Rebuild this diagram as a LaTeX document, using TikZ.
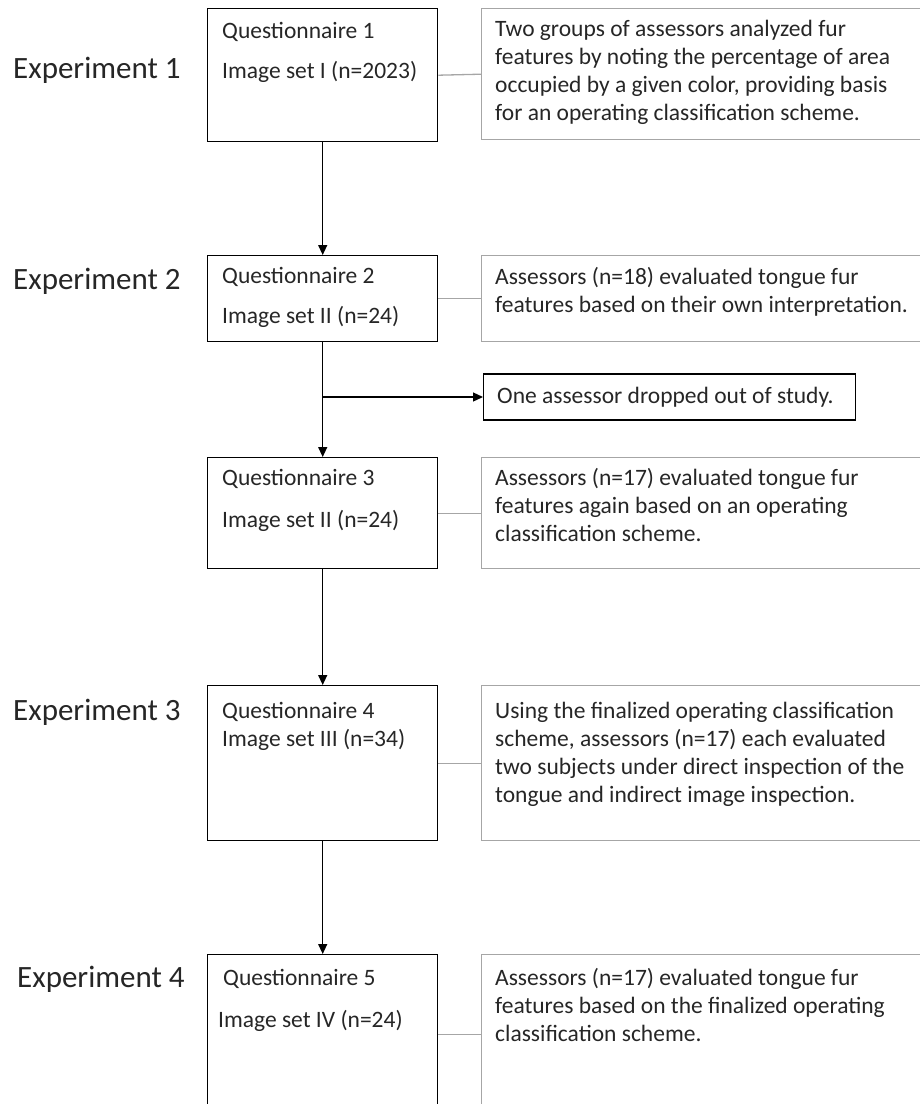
\documentclass[tikz,border=0pt]{standalone}
\usepackage{fontspec}
\setmainfont{Carlito}
\usetikzlibrary{arrows.meta}
\definecolor{ink}{HTML}{262626}
\definecolor{frame}{HTML}{A6A6A6}
\newcommand{\bodyfont}{\fontsize{23.5}{28}\selectfont}
\newcommand{\labfont}{\fontsize{31}{36}\selectfont}

\begin{document}
\begin{tikzpicture}[x=1pt,y=-1pt,
  stagebox/.style={draw=black, line width=1.4pt, anchor=north west, inner sep=0pt, minimum width=230pt},
  notebox/.style={draw=frame, line width=1.4pt, anchor=north west, inner sep=0pt, minimum width=470pt},
  dropbox/.style={draw=black, line width=1.4pt, anchor=west, inner sep=0pt,
    minimum height=46pt, minimum width=372pt},
  txt/.style={anchor=west, inner sep=0pt, font=\bodyfont, text=ink},
  notetxt/.style={anchor=north west, inner sep=0pt, font=\bodyfont, text=ink, align=left},
  lab/.style={anchor=west, inner sep=0pt, font=\labfont, text=ink},
  flow/.style={draw=black, line width=1.3pt, -{Triangle[length=10pt,width=9pt]}},
  link/.style={draw=frame, line width=1.3pt}
]
\useasboundingbox (0,0) rectangle (920,1104);
\clip (0,0) rectangle (920,1104);

% stage labels
\node[lab] (e1) at (13,70) {Experiment 1};
\node[lab] (e2) at (13,281) {Experiment 2};
\node[lab] (e3) at (13,712) {Experiment 3};
\node[lab] (e4) at (17,979) {Experiment 4};

% questionnaire boxes
\node[stagebox, minimum height=133pt] (b1) at (207,8) {};
\node[stagebox, minimum height=86pt]  (b2) at (207,255) {};
\node[stagebox, minimum height=111pt] (b3) at (207,457) {};
\node[stagebox, minimum height=155pt] (b4) at (207,685) {};
\node[stagebox, minimum height=160pt] (b5) at (207,954) {};

\node[txt] (q1) at (222,32) {Questionnaire 1};
\node[txt] (s1) at (222,72) {Image set I (n=2023)};
\node[txt] (q2) at (222,277) {Questionnaire 2};
\node[txt] (s2) at (222,317) {Image set II (n=24)};
\node[txt] (q3) at (222,479) {Questionnaire 3};
\node[txt] (s3) at (222,521) {Image set II (n=24)};
\node[txt] (q4) at (222,712) {Questionnaire 4};
\node[txt] (s4) at (222,740) {Image set III (n=34)};
\node[txt] (q5) at (223,979) {Questionnaire 5};
\node[txt] (s5) at (218,1021) {Image set IV (n=24)};

% description boxes
\node[notebox, minimum height=131pt] (n1) at (481,8) {};
\node[notebox, minimum height=86pt]  (n2) at (481,255) {};
\node[notebox, minimum height=111pt] (n3) at (481,457) {};
\node[notebox, minimum height=155pt] (n4) at (481,685) {};
\node[notebox, minimum height=160pt] (n5) at (481,954) {};

\node[notetxt] (t1) at (495,20) {Two groups of assessors analyzed fur\\features by noting the percentage of area\\occupied by a given color, providing basis\\for an operating classification scheme.};
\node[notetxt] (t2) at (495,267) {Assessors (n=18) evaluated tongue fur\\features based on their own interpretation.};
\node[notetxt] (t3) at (495,468) {Assessors (n=17) evaluated tongue fur\\features again based on an operating\\classification scheme.};
\node[notetxt] (t4) at (495,702) {Using the finalized operating classification\\scheme, assessors (n=17) each evaluated\\two subjects under direct inspection of the\\tongue and indirect image inspection.};
\node[notetxt] (t5) at (495,968) {Assessors (n=17) evaluated tongue fur\\features based on the finalized operating\\classification scheme.};

% drop-out note
\node[dropbox] (drop) at (483,397) {};
\node[txt] (droptxt) at (497,397) {One assessor dropped out of study.};
\coordinate (split) at (322,397);

% links from stages to descriptions
\draw[link] (b1.east) -- (n1.west);
\draw[link] (b2.east) -- (n2.west);
\draw[link] (b3.east) -- (n3.west);
\draw[link] (b4.east) -- (n4.west);
\draw[link] (b5.east) -- (n5.west);

% flow between stages
\draw[flow] (b1) -- (b2);
\draw[flow] (b2) -- (b3);
\draw[flow] (split) -- (drop.west);
\draw[flow] (b3) -- (b4);
\draw[flow] (b4) -- (b5);
\end{tikzpicture}
\end{document}
